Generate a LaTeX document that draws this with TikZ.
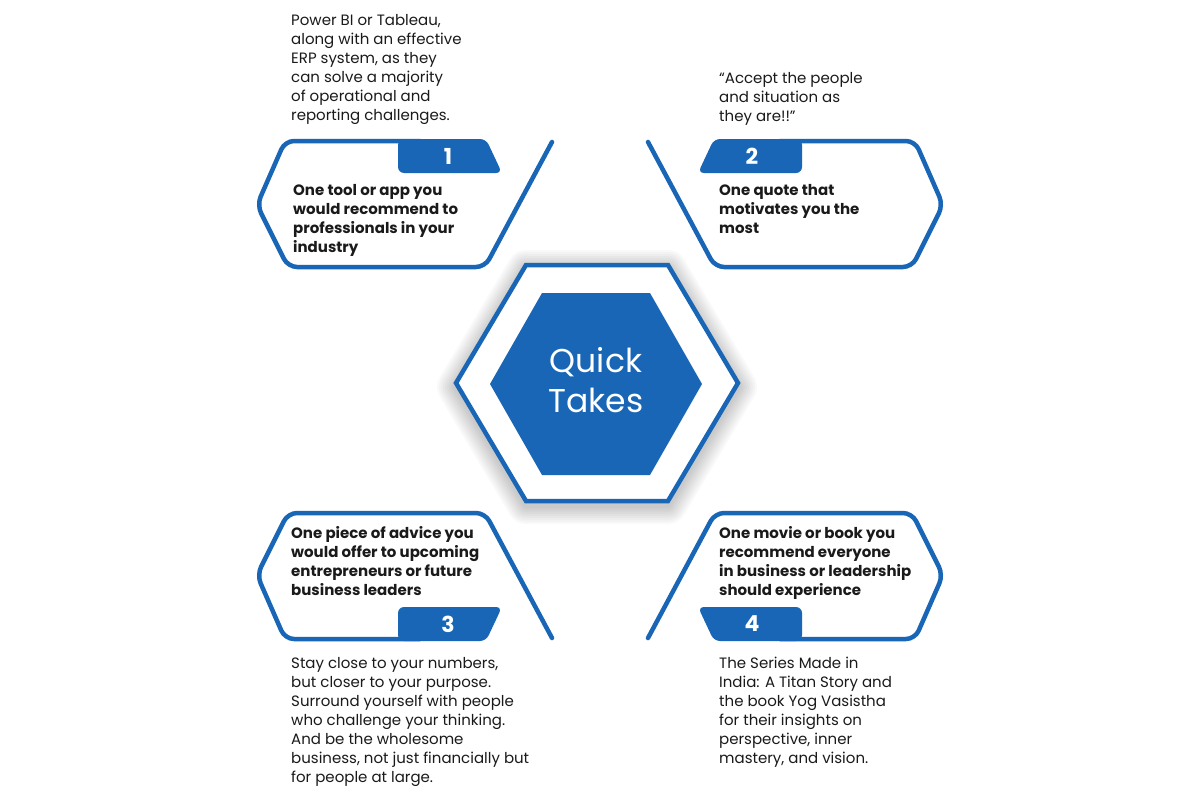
\documentclass[tikz,border=0pt]{standalone}
\usepackage{fontspec}
\setmainfont{Poppins}
\usetikzlibrary{calc}
\definecolor{qblue}{HTML}{1866B5}
\definecolor{qink}{HTML}{1A1A1A}
\tikzset{
  rim/.style ={draw=qblue,line width=4.5pt,rounded corners=9pt,line cap=round},
  tab/.style ={fill=qblue,rounded corners=6pt},
  num/.style ={text=white,inner sep=0pt,font=\fontsize{22}{24}\selectfont\bfseries},
  ans/.style ={anchor=north west,align=left,inner sep=0pt,text=qink,font=\fontsize{15}{19}\selectfont},
  qst/.style ={ans,font=\fontsize{15}{19}\selectfont\bfseries},
  glow/.style={draw=black,draw opacity=0.022,line join=round,line width=#1},
}

\begin{document}
\begin{tikzpicture}[x=1pt,y=-1pt]
  \fill[white] (0,0) rectangle (1200,800);
  \useasboundingbox (0,0) rectangle (1200,800);
  \coordinate (mid) at (600,390);

  % four frames, mirrored about the middle
  \foreach \sx/\sy/\n in {1/1/1,-1/1/2,1/-1/3,-1/-1/4}{
    \begin{scope}[shift={(mid)},xscale=\sx,yscale=\sy]
      \draw[rim] (-180,-249) -- (-315,-249) -- (-343,-185) -- (-312,-123)
                 -- (-115,-123) -- (-48,-248);
      \fill[tab] (-202,-251) -- (-114,-251) -- (-98,-217) -- (-202,-217) -- cycle;
      \node[num] (n\n) at (-152,-234) {\n};
    \end{scope}
  }

  % soft glow round the centre hexagon
  \foreach \w in {6,10,...,38}
    \draw[glow=\w pt] (456,387) -- (526,269) -- (668,269) -- (738,387) -- (668,505) -- (526,505) -- cycle;

  % centre hexagon
  \draw[draw=qblue,line width=4.5pt,fill=white]
    (456,383) -- (526,265) -- (668,265) -- (738,383) -- (668,501) -- (526,501) -- cycle;
  \fill[qblue] (490,384) -- (542,293) -- (650,293) -- (702,384) -- (650,475) -- (542,475) -- cycle;
  \node[text=white,align=center,inner sep=0pt,
        font=\fontsize{33}{40}\selectfont] (core) at (596,380) {Quick\\Takes};

  % questions
  \node[qst] (q1) at (293,184) {One tool or app you\\would recommend to\\professionals in your\\industry};
  \node[qst] (q2) at (719,184) {One quote that\\motivates you the\\most};
  \node[qst] (q3) at (291,526) {One piece of advice you\\would offer to upcoming\\entrepreneurs or future\\business leaders};
  \node[qst] (q4) at (719,526) {One movie or book you\\recommend everyone\\in business or leadership\\should experience};

  % answers
  \node[ans] (a1) at (291,14) {Power BI or Tableau,\\along with an effective\\ERP system, as they\\can solve a majority\\of operational and\\reporting challenges.};
  \node[ans] (a2) at (719,72) {“Accept the people\\and situation as\\they are!!”};
  \node[ans] (a3) at (291,657) {Stay close to your numbers,\\but closer to your purpose.\\Surround yourself with people\\who challenge your thinking.\\And be the wholesome\\business, not just financially but\\for people at large.};
  \node[ans] (a4) at (719,657) {The Series Made in\\India: A Titan Story and\\the book Yog Vasistha\\for their insights on\\perspective, inner\\mastery, and vision.};
\end{tikzpicture}
\end{document}
